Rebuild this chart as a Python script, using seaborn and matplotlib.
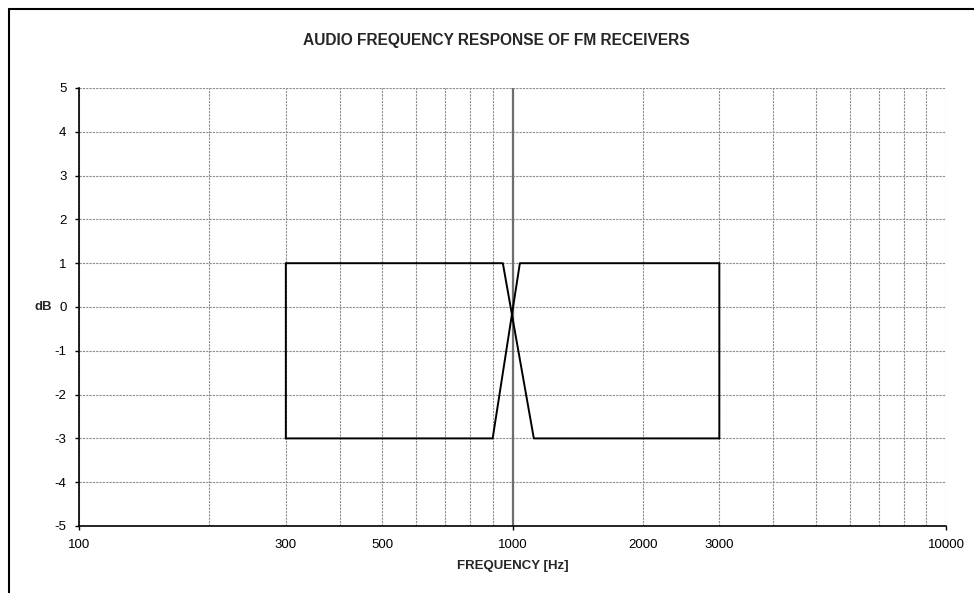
import matplotlib
matplotlib.use("Agg")
import matplotlib.pyplot as plt
import matplotlib.ticker as mticker
from matplotlib.lines import Line2D
import pandas as pd
import seaborn as sns

sns.set_style("white")
plt.rcParams["font.family"] = ["Liberation Sans", "DejaVu Sans"]
plt.rcParams["axes.unicode_minus"] = False

# mask limits (frequency in Hz, level in dB)
upper_freq = [300, 300, 950, 1120, 3000]
upper_db = [-3, 1, 1, -3, -3]
lower_freq = [300, 900, 1040, 3000, 3000]
lower_db = [-3, -3, 1, 1, -3]
ref_freq = 1000

major_ticks = [100, 1000, 10000]
labelled_minor = [300, 500, 2000, 3000]
y_ticks = list(range(-5, 6))

upper = pd.DataFrame({"freq": upper_freq, "db": upper_db})
lower = pd.DataFrame({"freq": lower_freq, "db": lower_db})

fig = plt.figure(figsize=(9.74, 5.93), dpi=100)
ax = fig.add_axes([79 / 974, 1 - 526 / 593, 867 / 974, 438 / 593])

ax.set_xscale("log")
ax.set_xlim(100, 10000)
ax.set_ylim(-5, 5)

grid_kw = dict(color="#8c8c8c", linewidth=0.8, linestyle=(0, (2, 1)))
ax.xaxis.set_major_locator(mticker.FixedLocator(major_ticks))
ax.xaxis.set_major_formatter(mticker.FuncFormatter(lambda v, p: f"{v:.0f}"))
minor = [m * 10 ** e for e in (2, 3) for m in range(2, 10)]
ax.xaxis.set_minor_locator(mticker.FixedLocator(minor))
ax.xaxis.set_minor_formatter(
    mticker.FuncFormatter(lambda v, p: f"{v:.0f}" if round(v) in labelled_minor else "")
)
ax.set_yticks(y_ticks)
ax.grid(True, which="both", **grid_kw)
ax.set_axisbelow(True)

ax.axvline(ref_freq, color="#6e6e6e", linewidth=1.6, zorder=1.5)

sns.lineplot(data=upper, x="freq", y="db", sort=False, estimator=None,
             color="black", linewidth=1.4, ax=ax)
sns.lineplot(data=lower, x="freq", y="db", sort=False, estimator=None,
             color="black", linewidth=1.4, ax=ax)

for side in ("top", "right"):
    ax.spines[side].set_visible(False)
for side in ("left", "bottom"):
    ax.spines[side].set_color("black")
    ax.spines[side].set_linewidth(1.2)

ax.tick_params(axis="x", which="major", direction="out", length=3, width=1,
               pad=6, labelsize=9.5, colors="black", bottom=True)
ax.tick_params(axis="x", which="minor", length=0, pad=9, labelsize=9.5,
               colors="black", bottom=True)
ax.tick_params(axis="y", direction="out", length=3, width=1, pad=6,
               labelsize=9.5, colors="black", left=True)

ax.set_xlabel("FREQUENCY [Hz]", fontsize=9.5, fontweight="bold")
ax.xaxis.set_label_coords(0.5, -0.092)
ax.xaxis.label.set_va("center")
ax.set_ylabel("dB", fontsize=9.5, fontweight="bold", rotation=0,
              ha="center", va="center")
ax.yaxis.set_label_coords(-0.0415, 0.5)

fig.text(496 / 974, 1 - 41 / 593, "AUDIO FREQUENCY RESPONSE OF FM RECEIVERS",
         ha="center", va="center", fontsize=11.2, fontweight="bold")

# chart area border (clipped by the image edge)
fig.add_artist(Line2D([8.5 / 974, 8.5 / 974], [0, 1 - 8.5 / 593],
                      transform=fig.transFigure, color="black", linewidth=1.5))
fig.add_artist(Line2D([8.5 / 974, 1], [1 - 8.5 / 593, 1 - 8.5 / 593],
                      transform=fig.transFigure, color="black", linewidth=1.5))

fig.savefig("out.png", dpi=100)
plt.close(fig)
